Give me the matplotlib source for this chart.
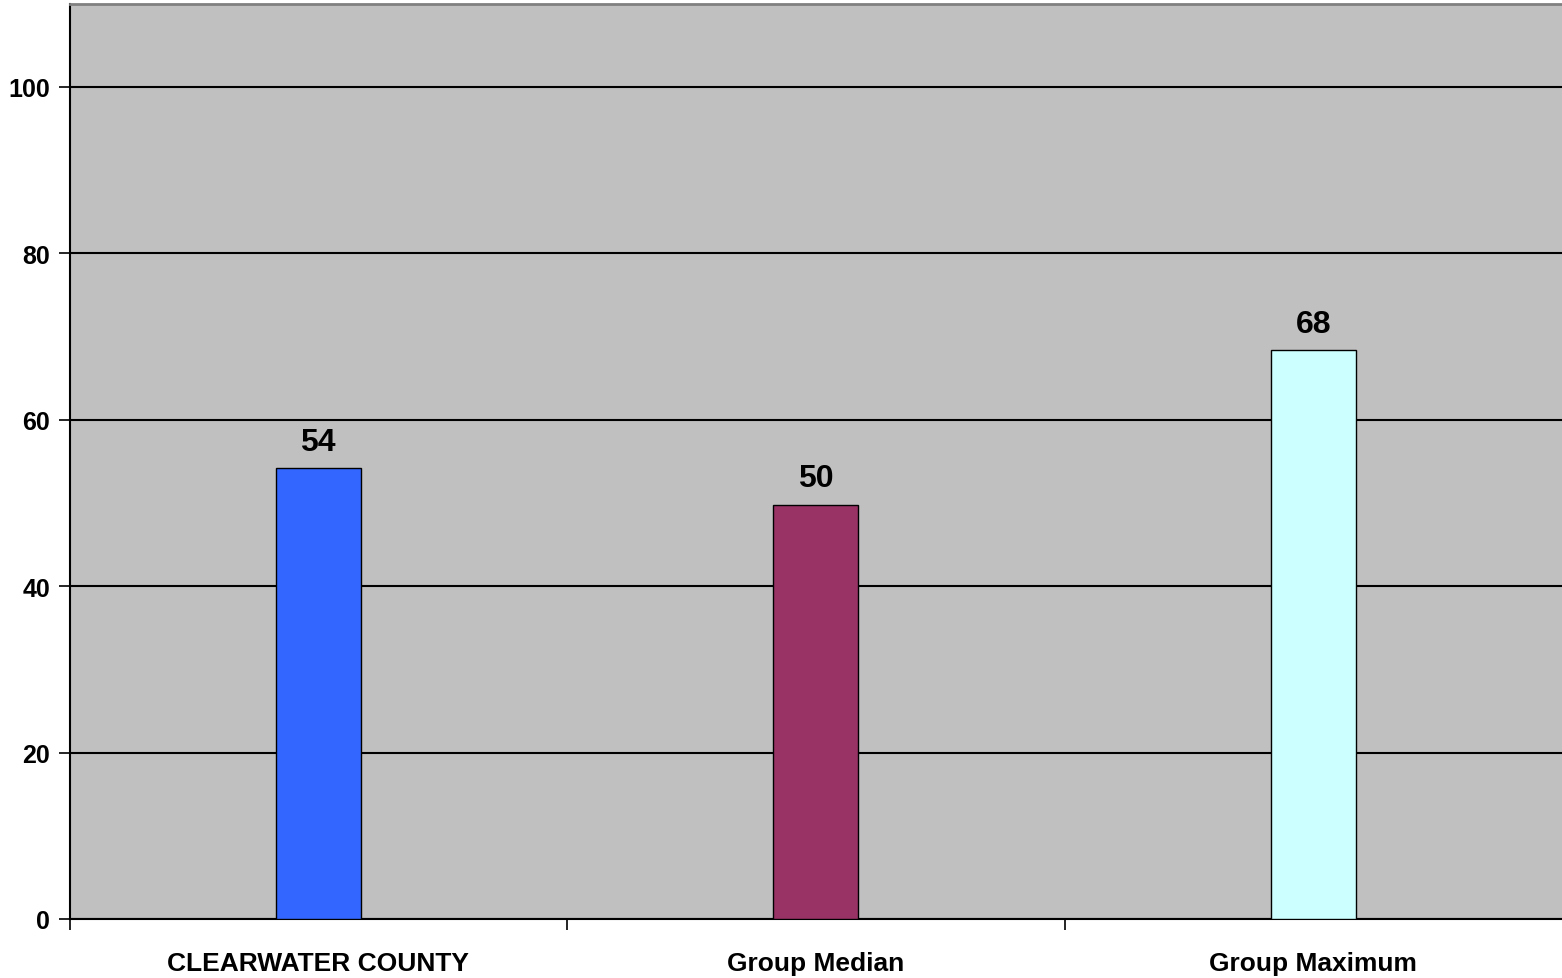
import matplotlib
matplotlib.use("Agg")
import matplotlib.pyplot as plt
import numpy as np

categories = ["CLEARWATER COUNTY", "Group Median", "Group Maximum"]
values = [54.2, 49.8, 68.4]
bar_colors = ["#3366FF", "#993366", "#CCFFFF"]
yticks = [0, 20, 40, 60, 80, 100]

plt.rcParams["font.family"] = ["Liberation Sans", "DejaVu Sans"]
plt.rcParams["font.weight"] = "bold"

fig = plt.figure(figsize=(15.62, 9.79), dpi=100)
ax = fig.add_axes([0.0445, 0.0603, 0.9555, 0.9351])
ax.set_facecolor("#C0C0C0")

x = np.arange(len(categories))
ax.bar(x, values, width=0.17, color=bar_colors, edgecolor="black", linewidth=1.0, zorder=3)

for xi, v in zip(x, values):
    ax.annotate(f"{v:.0f}", (xi, v), xytext=(0, 8), textcoords="offset points",
                ha="center", va="bottom", fontsize=23, fontweight="bold")

ax.set_xlim(-0.5, 2.5)
ax.set_ylim(0, 110)
ax.set_yticks(yticks)
ax.set_yticklabels([str(t) for t in yticks], fontsize=18, fontweight="bold")
ax.yaxis.grid(True, color="black", linewidth=1.5, zorder=1)
ax.set_axisbelow(True)

ax.set_xticks(x)
ax.set_xticklabels(categories, fontsize=19, fontweight="bold")
ax.set_xticks([-0.5, 0.5, 1.5], minor=True)
ax.tick_params(axis="x", which="major", length=0, pad=23)
ax.tick_params(axis="x", which="minor", length=8, width=1.2, direction="out")
ax.tick_params(axis="y", length=8, width=1.2, direction="out", pad=6)

for side in ["left", "bottom"]:
    ax.spines[side].set_color("black")
    ax.spines[side].set_linewidth(1.5)
ax.spines["top"].set_color("#808080")
ax.spines["top"].set_linewidth(2)
ax.spines["right"].set_visible(False)

fig.savefig("out.png", dpi=100)
